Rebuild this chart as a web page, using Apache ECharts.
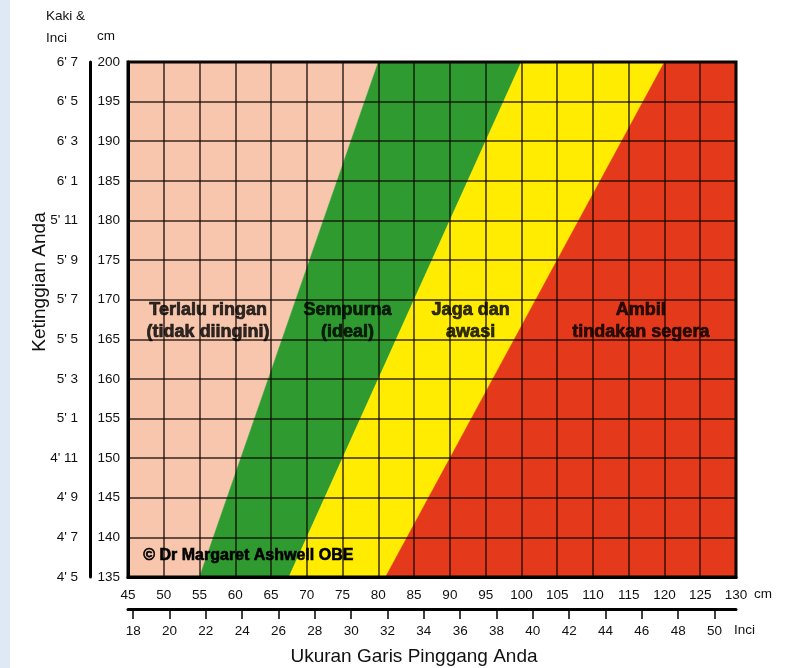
<!DOCTYPE html>
<html><head><meta charset="utf-8">
<script src="https://cdn.jsdelivr.net/npm/echarts@6/dist/echarts.min.js"></script>
<style>html,body{margin:0;padding:0;background:#fff}#c{width:793px;height:668px}</style>
</head><body><div id="c"></div>
<script>
// ---- data ----
const heightMin = 135, heightMax = 200, heightStep = 5;
const waistMin = 45, waistMax = 130, waistStep = 5;
const feetLabels = ["4' 5","4' 7","4' 9","4' 11","5' 1","5' 3","5' 5","5' 7","5' 9","5' 11","6' 1","6' 3","6' 5","6' 7"];
const inchTicks = [18,20,22,24,26,28,30,32,34,36,38,40,42,44,46,48,50];
// zone boundaries (waist cm) at bottom height (135) and top height (200)
const boundaryAtMin = [55, 67.5, 81];
const boundaryAtMax = [80, 100, 120];
const zoneNames = ["Terlalu ringan\n(tidak diingini)", "Sempurna\n(ideal)", "Jaga dan\nawasi", "Ambil\ntindakan segera"];
const zoneLabelX = [56.2, 75.7, 92.9, 116.7];
const zoneLabelY = [167.3, 167.3, 167.3, 167.3];
const copyright = "© Dr Margaret Ashwell OBE";

// ---- styles ----
const zoneColors = ['#f7c6ad', '#2e9a30', '#ffec00', '#e4391a'];
const FONT = 'Liberation Sans, Arial, Helvetica, sans-serif';

const chart = echarts.init(document.getElementById('c'), null, {renderer: 'canvas'});

const zoneData = zoneNames.map((n, i) => [i]);

function renderZone(params, api) {
  const i = api.value(0);
  const loMin = i === 0 ? waistMin : boundaryAtMin[i - 1];
  const loMax = i === 0 ? waistMin : boundaryAtMax[i - 1];
  const hiMin = i === zoneNames.length - 1 ? waistMax : boundaryAtMin[i];
  const hiMax = i === zoneNames.length - 1 ? waistMax : boundaryAtMax[i];
  const pts = [
    api.coord([loMin, heightMin]),
    api.coord([hiMin, heightMin]),
    api.coord([hiMax, heightMax]),
    api.coord([loMax, heightMax])
  ];
  return {
    type: 'polygon',
    shape: {points: pts},
    style: {fill: zoneColors[i], stroke: zoneColors[i], lineWidth: 0.5}
  };
}

const splitStyle = {show: true, lineStyle: {color: 'rgba(20,10,5,0.85)', width: 1.5}};

chart.setOption({
  animation: false,
  textStyle: {fontFamily: FONT},
  grid: {left: 128, right: 57, top: 62, bottom: 91, show: true, borderColor: '#000', borderWidth: 3, z: 10},
  xAxis: [{
    type: 'value', min: waistMin, max: waistMax, interval: waistStep, position: 'bottom', z: 10,
    axisLine: {show: true, onZero: false, lineStyle: {color: '#000', width: 3}},
    axisTick: {show: false},
    axisLabel: {color: '#111', fontSize: 13.5, margin: 11, fontFamily: FONT},
    splitLine: splitStyle
  }, {
    type: 'value', min: waistMin / 2.54, max: waistMax / 2.54, position: 'bottom', offset: 32, z: 10,
    axisLine: {show: true, onZero: false, lineStyle: {color: '#000', width: 3}},
    axisTick: {show: true, customValues: inchTicks, length: 10, inside: false, lineStyle: {color: '#000', width: 1.5}},
    axisLabel: {show: true, customValues: inchTicks, color: '#111', fontSize: 13.5, margin: 15, fontFamily: FONT},
    splitLine: {show: false}
  }],
  yAxis: [{
    type: 'value', min: heightMin, max: heightMax, interval: heightStep, position: 'left', z: 10,
    axisLine: {show: true, onZero: false, lineStyle: {color: '#000', width: 3}},
    axisTick: {show: false},
    axisLabel: {color: '#111', fontSize: 13.5, margin: 8, fontFamily: FONT},
    splitLine: splitStyle
  }, {
    type: 'value', min: heightMin, max: heightMax, interval: heightStep, position: 'left', offset: 38, z: 10,
    axisLine: {show: true, onZero: false, lineStyle: {color: '#000', width: 3}},
    axisTick: {show: false},
    axisLabel: {color: '#111', fontSize: 13.5, margin: 12, fontFamily: FONT,
      formatter: v => feetLabels[Math.round((v - heightMin) / heightStep)] || ''},
    splitLine: {show: false}
  }],
  series: [{
    type: 'custom', renderItem: renderZone, data: zoneData, z: 2, silent: true,
    xAxisIndex: 0, yAxisIndex: 0, clip: true
  }, {
    type: 'scatter', symbolSize: 0, z: 20, silent: true, xAxisIndex: 0, yAxisIndex: 0,
    data: zoneNames.map((n, i) => ({value: [zoneLabelX[i], zoneLabelY[i]], name: n})),
    label: {show: true, position: 'inside', formatter: p => p.name, color: '#000', fontSize: 18,
      fontWeight: 'bold', lineHeight: 22, align: 'center', verticalAlign: 'middle', fontFamily: FONT,
      textBorderColor: '#000', textBorderWidth: 0.7}
  }],
  graphic: [
    {type: 'rect', left: 0, top: 0, shape: {width: 10, height: 668}, style: {fill: '#dfe9f5'}, z: 0},
    {type: 'text', left: 46, top: 9, style: {text: 'Kaki &', font: '13.5px ' + FONT, fill: '#111'}},
    {type: 'text', left: 46, top: 31, style: {text: 'Inci', font: '13.5px ' + FONT, fill: '#111'}},
    {type: 'text', left: 97, top: 29, style: {text: 'cm', font: '13.5px ' + FONT, fill: '#111'}},
    {type: 'text', left: 754, top: 587, style: {text: 'cm', font: '13.5px ' + FONT, fill: '#111'}},
    {type: 'text', left: 734, top: 623, style: {text: 'Inci', font: '13.5px ' + FONT, fill: '#111'}},
    {type: 'text', x: 414, y: 657, style: {text: 'Ukuran Garis Pinggang Anda', font: '19px ' + FONT, fill: '#111', textAlign: 'center', textVerticalAlign: 'middle'}},
    {type: 'text', x: 40, y: 282, rotation: Math.PI / 2, style: {text: 'Ketinggian Anda', font: '19px ' + FONT, fill: '#111', textAlign: 'center', textVerticalAlign: 'middle'}},
    {type: 'text', left: 143, top: 547, z: 100, style: {text: copyright, font: 'bold 16px ' + FONT, fill: '#000', stroke: '#000', lineWidth: 0.6}}
  ]
});
</script></body></html>
